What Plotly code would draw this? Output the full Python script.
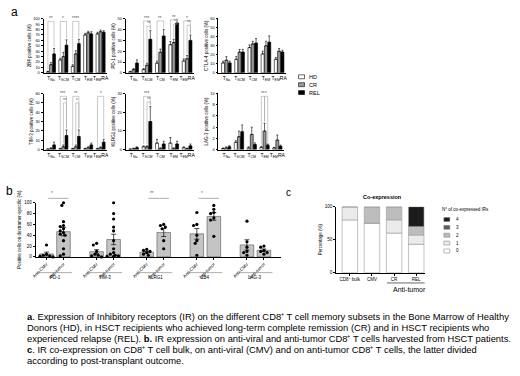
import plotly.graph_objects as go

W, H = 520, 376

# ---------------- data: panel a ----------------
SUBSETS = ["T<sub>Na</sub>", "T<sub>SCM</sub>", "T<sub>CM</sub>", "T<sub>EM</sub>", "T<sub>EM</sub>RA"]
GROUPS = ["HD", "CR", "REL"]
A_MARKERS = ["2B4", "PD-1", "CTLA-4", "TIM-3", "KLRG1", "LAG-3"]
A_YMAX = [100, 50, 60, 60, 30, 10]
A_DTICK = [10, 10, 10, 10, 10, 2]

B4_MEAN = [[2, 24, 12, 70, 72], [15, 30, 35, 74, 76], [35, 51, 54, 72, 75]]
B4_ERR = [[1, 3, 3, 3, 3], [4, 8, 6, 3, 3], [10, 10, 8, 4, 3]]
PD1_MEAN = [[1, 3, 9, 26, 11], [3, 7, 19, 28, 13], [9, 31, 34, 46, 30]]
PD1_ERR = [[0.5, 1, 2, 3, 2], [1, 2, 3, 3, 3], [3, 8, 6, 5, 5]]
CTLA4_MEAN = [[11, 15, 28, 21, 15], [14, 23, 32, 30, 24], [11, 23, 33, 34, 23]]
CTLA4_ERR = [[2, 3, 3, 3, 2], [4, 3, 3, 5, 3], [2, 3, 5, 7, 2]]
TIM3_MEAN = [[0.5, 1, 1, 1, 1], [1, 3, 3, 2, 2], [5, 15, 14, 5, 8]]
TIM3_ERR = [[0.3, 0.5, 0.5, 0.5, 0.5], [1, 2, 2, 1, 1], [3, 6, 7, 2, 3]]
KLRG1_MEAN = [[0.2, 1.5, 3.5, 3.5, 1], [0.5, 1.5, 0.5, 0.5, 0.5], [1, 15, 3, 3, 2]]
KLRG1_ERR = [[0.2, 0.5, 2, 3, 0.5], [0.3, 0.5, 0.5, 0.5, 0.3], [0.5, 8, 1.5, 1.5, 1]]
LAG3_MEAN = [[0.2, 1.3, 0.3, 0.4, 0.3], [0.3, 2.3, 2.7, 3.3, 1.7], [0.5, 3.2, 0.9, 0.8, 0.6]]
LAG3_ERR = [[0.1, 0.3, 0.2, 0.2, 0.1], [0.2, 1, 1.3, 1.4, 0.9], [0.2, 1.2, 0.3, 0.2, 0.2]]

# significance: (subset, bar i, bar j, height, label)
B4_SIG = [(0, 0, 2, 95, "**"), (1, 0, 2, 95, "*"), (2, 0, 2, 95, "****")]
PD1_SIG = [(1, 0, 2, 48, "***"), (1, 1, 2, 43, "**"), (2, 0, 2, 48, "**"),
           (3, 0, 2, 49, "**"), (3, 1, 2, 45, "*"), (4, 0, 2, 48, "*"), (4, 1, 2, 44, "**")]
CTLA4_SIG = []
TIM3_SIG = [(1, 0, 2, 57, "***"), (1, 1, 2, 50, "**"), (2, 0, 2, 57, "**"),
            (2, 1, 2, 50, "*"), (4, 0, 2, 57, "*")]
KLRG1_SIG = [(1, 0, 2, 28.5, "***"), (1, 1, 2, 25.5, "**")]
LAG3_SIG = [(3, 0, 1, 9.5, "**"), (3, 1, 2, 9.5, "*")]

# ---------------- data: panel b ----------------
B_MARKERS = ["PD-1", "TIM-3", "KLRG1", "2B4", "LAG-3"]
B_TICKS = ["Anti-CMV", "Anti-tumor"]
B_ANTI_CMV = [[22, 5, 3, 2, 1, 0],
              [25, 22, 10, 5, 3, 2, 0],
              [14, 12, 10, 8, 5, 3],
              [82, 60, 58, 40, 30, 25, 3],
              [66, 28, 18, 10, 8, 3]]
B_ANTI_TUMOR = [[100, 95, 65, 58, 56, 52, 48, 45, 42, 40, 30, 15, 5, 2],
                [100, 80, 70, 55, 48, 30, 15, 8, 5, 3, 2, 1, 1],
                [60, 58, 55, 52, 30, 15],
                [95, 88, 82, 80, 72, 68, 38],
                [20, 18, 12, 10, 8, 5]]
B_SIG = [(0, "*"), (2, "**"), (3, "*")]

# ---------------- data: panel c ----------------
C_CATS = ["CD8+ bulk", "CMV", "CR", "REL"]
C_LEVELS = ["0", "1", "2", "3", "4"]
C_SHARE_0 = [80, 75, 60, 43]
C_SHARE_1 = [20, 0, 20, 14]
C_SHARE_2 = [0, 25, 20, 13]
C_SHARE_3 = [0, 0, 0, 0]
C_SHARE_4 = [0, 0, 0, 30]

CAPTION = [
    "<b>a</b>. Expression of Inhibitory receptors (IR) on the different CD8⁺ T cell memory subsets in the Bone Marrow of Healthy",
    "Donors (HD), in HSCT recipients who achieved long-term complete remission (CR) and in HSCT recipients who",
    "experienced relapse (REL). <b>b.</b> IR expression on anti-viral and anti-tumor CD8⁺ T cells harvested from HSCT patients.",
    "<b>c</b>. IR co-expression on CD8⁺ T cell bulk, on anti-viral (CMV) and on anti-tumor CD8⁺ T cells, the latter divided",
    "according to post-transplant outcome.",
]

# ---------------- helpers ----------------
def fx(p):
    return p / W

def fy(p):
    return 1 - p / H

def dom_x(a, b):
    return [fx(a), fx(b)]

def dom_y(top, bottom):
    return [fy(bottom), fy(top)]

FONT = "Liberation Sans, Arial, sans-serif"
fig = go.Figure()
layout = dict(width=W, height=H, margin=dict(l=0, r=0, t=0, b=0),
              paper_bgcolor="white", plot_bgcolor="white", showlegend=False,
              barmode="overlay", font=dict(family=FONT, color="black"))
shapes = []
annotations = []

AXIS = dict(showline=True, linecolor="black", linewidth=0.8, showgrid=False,
            zeroline=False, ticks="outside", ticklen=2, tickwidth=0.6,
            tickcolor="black")

A_COLORS = ["white", "#9a9a9a", "black"]
A_DATA = [(B4_MEAN, B4_ERR, B4_SIG), (PD1_MEAN, PD1_ERR, PD1_SIG),
          (CTLA4_MEAN, CTLA4_ERR, CTLA4_SIG), (TIM3_MEAN, TIM3_ERR, TIM3_SIG),
          (KLRG1_MEAN, KLRG1_ERR, KLRG1_SIG), (LAG3_MEAN, LAG3_ERR, LAG3_SIG)]
A_XDOM = [(40, 104), (123, 192), (217, 285), (40, 104), (123, 192), (217, 283)]
A_YDOM = [(16, 71), (16, 71), (16, 71), (92, 149), (92, 149), (92, 149)]
BW = 0.25

for k, (means, errs, sigs) in enumerate(A_DATA):
    n = k + 1
    xa, ya = f"x{n}", f"y{n}"
    for gi in range(3):
        xs = [s + (gi - 1) * BW for s in range(len(SUBSETS))]
        fig.add_trace(go.Bar(
            x=xs, y=means[gi], width=BW * 0.92, xaxis=xa, yaxis=ya,
            marker=dict(color=A_COLORS[gi], line=dict(color="black", width=0.6)),
            error_y=dict(type="data", array=errs[gi], arrayminus=[0] * len(errs[gi]),
                         symmetric=False, color="black", thickness=0.6, width=1),
            name=GROUPS[gi]))
    ymax = A_YMAX[k]
    layout[f"xaxis{n}"] = dict(AXIS, domain=dom_x(*A_XDOM[k]), anchor=ya,
                               range=[-0.6, 4.5], tickvals=list(range(5)),
                               ticktext=SUBSETS, ticks="", tickangle=0,
                               tickfont=dict(size=5))
    layout[f"yaxis{n}"] = dict(AXIS, domain=dom_y(*A_YDOM[k]), anchor=xa,
                               range=[0, ymax], dtick=A_DTICK[k],
                               tickfont=dict(size=4),
                               title=dict(text=f"{A_MARKERS[k]} positive cells (%)",
                                          font=dict(size=4.5), standoff=1))
    for (s, i, j, h, lab) in sigs:
        x_i = s + (i - 1) * BW
        x_j = s + (j - 1) * BW
        lo_i = means[i][s] + errs[i][s] + ymax * 0.03
        lo_j = means[j][s] + errs[j][s] + ymax * 0.03
        shapes.append(dict(type="path", xref=xa, yref=ya,
                           path=f"M {x_i},{lo_i} L {x_i},{h} L {x_j},{h} L {x_j},{lo_j}",
                           line=dict(color="#a8a8a8", width=0.6)))
        annotations.append(dict(x=(x_i + x_j) / 2, y=h, xref=xa, yref=ya, text=lab,
                                showarrow=False, xanchor="center", yanchor="bottom", yshift=-2,
                                font=dict(size=4.5, color="#555")))

# panel a legend
for i, g in enumerate(GROUPS):
    yc = 75 + 8 * i
    shapes.append(dict(type="rect", xref="paper", yref="paper",
                       x0=fx(298), x1=fx(304), y0=fy(yc + 2), y1=fy(yc - 2),
                       fillcolor=A_COLORS[i], line=dict(color="black", width=0.6)))
    annotations.append(dict(x=fx(307), y=fy(yc), xref="paper", yref="paper", text=g,
                            showarrow=False, xanchor="left", yanchor="middle",
                            font=dict(size=5.5)))

# ---------------- panel b ----------------
GSP = 2.95
XS_PX = 17.2
YS_PX = 55 / 100.0

def swarm(vals, center, d=3.0):
    placed = []
    xs = []
    for v in vals:
        chosen = center
        for kk in [0, -1, 1, -2, 2, -3, 3, -4, 4]:
            xcand = center + kk * (d * 0.55) / XS_PX
            ok = all(((xcand - px_) * XS_PX) ** 2 + ((v - py_) * YS_PX) ** 2 >= d * d
                     for px_, py_ in placed)
            if ok:
                chosen = xcand
                break
        placed.append((chosen, v))
        xs.append(chosen)
    return xs

def mean(v):
    return sum(v) / len(v)

def sem(v):
    m = mean(v)
    return (sum((a - m) ** 2 for a in v) / (len(v) - 1)) ** 0.5 / len(v) ** 0.5

bx, by, be, tickv, tickt = [], [], [], [], []
for g in range(len(B_MARKERS)):
    for side, vals in enumerate([B_ANTI_CMV[g], B_ANTI_TUMOR[g]]):
        c = g * GSP + (side - 0.5)
        bx.append(c)
        by.append(mean(vals))
        be.append(sem(vals))
        tickv.append(c)
        tickt.append(B_TICKS[side])

fig.add_trace(go.Bar(x=bx, y=by, width=0.8, xaxis="x7", yaxis="y7",
                     marker=dict(color="#c4c4c4", line=dict(color="#555", width=0.6)),
                     error_y=dict(type="data", array=be, color="black", thickness=0.7, width=2.5)))
px_all, py_all = [], []
for g in range(len(B_MARKERS)):
    for side, vals in enumerate([B_ANTI_CMV[g], B_ANTI_TUMOR[g]]):
        c = g * GSP + (side - 0.5)
        px_all += swarm(vals, c)
        py_all += vals
fig.add_trace(go.Scatter(x=px_all, y=py_all, mode="markers", xaxis="x7", yaxis="y7",
                         cliponaxis=False,
                         marker=dict(color="black", size=3.2, line=dict(width=0))))

layout["xaxis7"] = dict(AXIS, domain=dom_x(32, 280), anchor="y7",
                        range=[-1.14, 13.29], tickvals=tickv, ticktext=tickt,
                        tickangle=-45, tickfont=dict(size=4.5), ticklen=2)
layout["yaxis7"] = dict(AXIS, domain=dom_y(203, 258), anchor="x7", range=[0, 100],
                        dtick=20, tickfont=dict(size=4.5),
                        title=dict(text="Positive cells on dextramer-specific (%)",
                                   font=dict(size=4.5), standoff=2))
for g, m in enumerate(B_MARKERS):
    c0 = g * GSP - 0.5
    c1 = g * GSP + 0.5
    shapes.append(dict(type="line", xref="x7", yref="paper", x0=c0 - 0.5, x1=c1 + 0.5,
                       y0=fy(274), y1=fy(274), line=dict(color="#777", width=0.6)))
    annotations.append(dict(x=g * GSP, y=fy(279), xref="x7", yref="paper", text=m,
                            showarrow=False, font=dict(size=4.5), xanchor="center",
                            yanchor="middle"))
for g, lab in B_SIG:
    c0 = g * GSP - 0.4
    c1 = g * GSP + 0.8
    shapes.append(dict(type="line", xref="x7", yref="paper", x0=c0, x1=c1,
                       y0=fy(198.5), y1=fy(198.5), line=dict(color="#777", width=0.6)))
    annotations.append(dict(x=c0 + 0.2, y=fy(198), xref="x7", yref="paper", text=lab,
                            showarrow=False, xanchor="center", yanchor="bottom",
                            font=dict(size=4.5, color="#555")))

# ---------------- panel c ----------------
C_SHARES = [C_SHARE_0, C_SHARE_1, C_SHARE_2, C_SHARE_3, C_SHARE_4]
C_COLORS = ["white", "#ebebeb", "#bdbdbd", "#5e5e5e", "#1c1c1c"]
cx = list(range(len(C_CATS)))
base = [0] * len(C_CATS)
for lv, share in enumerate(C_SHARES):
    fig.add_trace(go.Bar(x=cx, y=share, base=base[:], width=0.7, xaxis="x8", yaxis="y8",
                         marker=dict(color=C_COLORS[lv], line=dict(color="#9a9a9a", width=0.6)),
                         name=C_LEVELS[lv]))
    base = [b + s for b, s in zip(base, share)]

ctext = ["CD8⁺ bulk" if c == "CD8+ bulk" else c for c in C_CATS]
layout["xaxis8"] = dict(AXIS, domain=dom_x(336, 426), anchor="y8", range=[-0.62, 3.4],
                        tickvals=cx, ticktext=ctext, tickangle=0, tickfont=dict(size=4.5))
layout["yaxis8"] = dict(AXIS, domain=dom_y(207, 274), anchor="x8", range=[0, 100],
                        tickvals=[0, 50, 100], tickfont=dict(size=4.5),
                        title=dict(text="Percentage (%)", font=dict(size=4.5), standoff=2))
annotations.append(dict(x=fx(383), y=fy(197), xref="paper", yref="paper",
                        text="<b>Co-expression</b>", showarrow=False, xanchor="center",
                        yanchor="middle", font=dict(size=5.5)))
shapes.append(dict(type="line", xref="x8", yref="paper", x0=cx[2] - 0.32, x1=cx[3] + 0.38,
                   y0=fy(284.5), y1=fy(284.5), line=dict(color="#444", width=0.8)))
annotations.append(dict(x=(cx[2] + cx[3]) / 2 + 0.2, y=fy(291.5), xref="x8", yref="paper",
                        text="Anti-tumor", showarrow=False, xanchor="center",
                        yanchor="middle", font=dict(size=7)))
# panel c legend
annotations.append(dict(x=fx(441), y=fy(210), xref="paper", yref="paper",
                        text="N° of co-expressed IRs", showarrow=False, xanchor="left",
                        yanchor="middle", font=dict(size=4.5)))
for r, lv in enumerate(reversed(range(len(C_LEVELS)))):
    yc = 220 + 8 * r
    shapes.append(dict(type="rect", xref="paper", yref="paper",
                       x0=fx(445), x1=fx(451), y0=fy(yc + 2), y1=fy(yc - 2),
                       fillcolor=C_COLORS[lv], line=dict(color="#777", width=0.5)))
    annotations.append(dict(x=fx(455), y=fy(yc), xref="paper", yref="paper",
                            text=C_LEVELS[lv], showarrow=False, xanchor="left",
                            yanchor="middle", font=dict(size=4.5)))

# ---------------- panel labels & caption ----------------
for lab, x, y, s in [("a", 11, 9, 12), ("b", 6, 191, 12), ("c", 288, 193, 10)]:
    annotations.append(dict(x=fx(x), y=fy(y), xref="paper", yref="paper", text=lab,
                            showarrow=False, xanchor="center", yanchor="middle",
                            font=dict(size=s)))
for i, line in enumerate(CAPTION):
    annotations.append(dict(x=fx(21), y=fy(319 + 11 * i), xref="paper", yref="paper",
                            text=line, showarrow=False, xanchor="left", yanchor="middle",
                            font=dict(size=9.4)))

layout["shapes"] = shapes
layout["annotations"] = annotations
fig.update_layout(**layout)
fig.write_html("out.html", config={"displayModeBar": False},
               post_script="document.body.style.margin='0';document.body.style.overflow='hidden';")
